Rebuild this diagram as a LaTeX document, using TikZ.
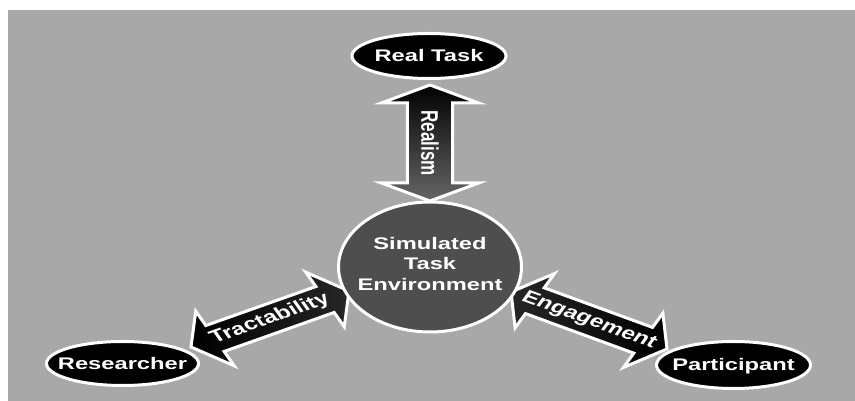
\documentclass[tikz,border=0pt]{standalone}
\usepackage{fontspec}
\setmainfont{Liberation Sans}
\usetikzlibrary{shapes.geometric,calc}

\definecolor{panel}{RGB}{168,168,168}
\definecolor{hub}{RGB}{78,78,78}

% horizontal stretch used for every label and every arrow body
\newcommand\wideby{1.41}
\newcommand\sx[1]{\scalebox{\wideby}[1]{#1}}

% double-headed block arrow between two tip coordinates
% #1,#2 tips  #3 head half-width  #4 shaft half-width  #5 head length
% #6 fill options  #7 label  #8 label node name
\newcommand\fatarrow[8]{%
  \pgfpointdiff{\pgfpointanchor{#1}{center}}{\pgfpointanchor{#2}{center}}%
  \pgfgetlastxy{\fadx}{\fady}%
  \pgfmathsetmacro\faang{atan2(\fady,\fadx/\wideby)}%
  \pgfmathsetmacro\falen{veclen(\fadx/\wideby,\fady)}%
  \begin{scope}[shift={(#1)}, xscale=\wideby, rotate=\faang]
    \path[arrowline, #6] (0,0) -- (#5,#3) -- (#5,#4) -- (\falen-#5,#4)
      -- (\falen-#5,#3) -- (\falen,0) -- (\falen-#5,-#3) -- (\falen-#5,-#4)
      -- (#5,-#4) -- (#5,-#3) -- cycle;
    \node[arrowtext, transform shape] (#8) at (\falen/2,0) {#7};
  \end{scope}}

\tikzset{
  bubble/.style={ellipse, draw=white, line width=3pt, fill=black, inner sep=0pt},
  bubbletext/.style={text=white, inner sep=0pt, align=center,
    font=\bfseries\fontsize{16.8}{21}\selectfont},
  arrowline/.style={draw=white, line width=3pt, line join=miter},
  arrowtext/.style={text=white, inner sep=0pt, font=\bfseries\fontsize{17.5}{20}\selectfont},
}

\begin{document}
\begin{tikzpicture}[x=1pt, y=1pt]
  \useasboundingbox (0,0) rectangle (855,401);
  \fill[white] (0,0) rectangle (855,401);
  \fill[panel] (8,0) rectangle (855,391);

  % arrow tips
  \coordinate (rlA) at (430,316);
  \coordinate (rlB) at (430,200);
  \coordinate (trA) at (191,54);
  \coordinate (trB) at (349,110);
  \coordinate (enA) at (511,109);
  \coordinate (enB) at (667,52);

  % arrows first, so the places cover their tips
  \fatarrow{rlA}{rlB}{34.5}{16}{18}{top color=black, bottom color=black!60}
    {\fontsize{17}{20}\selectfont Realism}{realism}
  \fatarrow{trA}{trB}{30.5}{14.5}{19}{left color=black, right color=black!85}
    {Tractability}{tract}
  \fatarrow{enA}{enB}{30.5}{14.5}{19}{left color=black!85, right color=black}
    {Engagement}{engage}

  % the four places
  \node[bubble, minimum width=154pt, minimum height=45pt] (real) at (429,345) {};
  \node[bubble, fill=hub, minimum width=183pt, minimum height=130pt] (sim) at (430,134) {};
  \node[bubble, minimum width=152pt, minimum height=44pt] (res) at (122.5,37.5) {};
  \node[bubble, minimum width=154pt, minimum height=47pt] (par) at (733.5,36) {};

  \node[bubbletext, text height=12pt, text depth=0pt] (realtxt) at (real) {\sx{Real Task}};
  \node[bubbletext] (simtxt) at ([yshift=3pt]sim) {\sx{Simulated}\\\sx{Task}\\\sx{Environment}};
  \node[bubbletext, text height=12pt, text depth=0pt] (restxt) at (res) {\sx{Researcher}};
  \node[bubbletext, text height=12pt, text depth=0pt] (partxt) at (par) {\sx{Participant}};
\end{tikzpicture}
\end{document}
